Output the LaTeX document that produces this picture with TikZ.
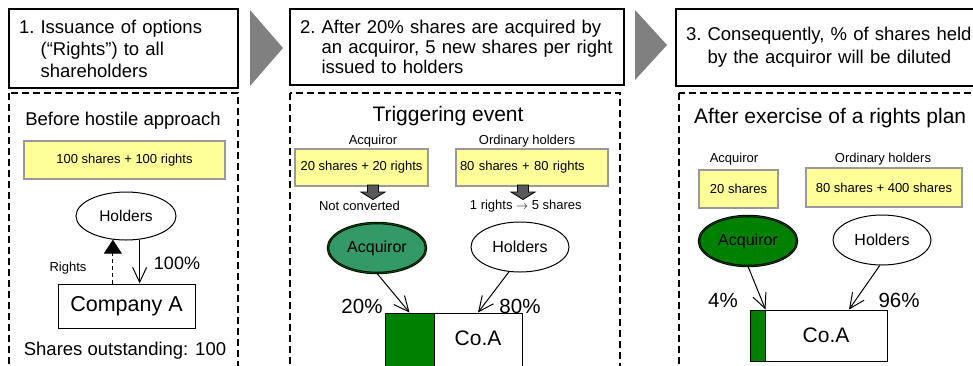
\documentclass[tikz,border=0pt]{standalone}
\usepackage{fontspec}
\setmainfont{Liberation Sans}
\usetikzlibrary{arrows.meta,shapes.geometric}

\definecolor{notefill}{HTML}{FFFF99}
\definecolor{noteline}{HTML}{999999}
\definecolor{chevgray}{HTML}{808080}
\definecolor{acqlight}{HTML}{339966}
\definecolor{acqdark}{HTML}{008000}
\definecolor{blkgray}{HTML}{595959}

\begin{document}
\begin{tikzpicture}[x=1pt,y=-1pt,
  headbox/.style={draw,line width=1.3pt,rectangle,inner xsep=10pt,inner ysep=0pt,align=left,font=\fontsize{18.5}{22}\selectfont},
  panel/.style={draw,line width=1.2pt,dash pattern=on 7pt off 4pt},
  yellowbox/.style={draw=noteline,fill=notefill,line width=1.5pt,minimum height=37pt,inner sep=2pt,font=\fontsize{13}{15}\selectfont},
  lbl/.style={font=\fontsize{13}{15}\selectfont,inner sep=0pt},
  ttl/.style={font=\fontsize{18.5}{22}\selectfont,inner sep=0pt},
  pct/.style={font=\fontsize{20.5}{24}\selectfont,inner sep=0pt},
  party/.style={draw,ellipse,line width=1pt,minimum width=98pt,minimum height=50pt,font=\fontsize{16}{19}\selectfont,inner sep=0pt},
  acquiror/.style={party,double=#1,double distance=0.9pt,line width=0.8pt},
  stake/.style={draw,line width=1pt,inner sep=0pt,font=\fontsize{21}{25}\selectfont},
  owns/.style={line width=1pt,-{Straight Barb[length=15pt,width=14pt]}},
  chevron/.style={fill=chevgray},
  blockarr/.style={draw=black,fill=blkgray,line width=0.8pt}
]
\useasboundingbox (0,0) rectangle (973,365);
\clip (0,0) rectangle (973,365);
\fill[white] (0,0) rectangle (973,365);

% step headers and arrows between them
\node[headbox,text width=209pt,minimum height=79pt] (head1) at (123.5,48.5) {1.~Issuance of options\\\phantom{1.~}(“Rights”) to all\\\phantom{1.~}shareholders};
\node[headbox,text width=314pt,minimum height=76pt,font=\fontsize{18.5}{20}\selectfont] (head2) at (457,47) {2.~After 20\% shares are acquired by\\\phantom{2.~}an acquiror, 5 new shares per right\\\phantom{2.~}issued to holders};
\node[headbox,text width=300pt,minimum height=77pt,font=\fontsize{18.5}{23}\selectfont] (head3) at (836,47.5) {3.~Consequently, \% of shares held\\\phantom{3.~}by the acquiror will be diluted};
\fill[chevron] (250,10) -- (283,48) -- (250,86) -- cycle;
\fill[chevron] (635,10) -- (667,45) -- (635,80) -- cycle;

\draw[panel] (9,93) rectangle (238,380);
\draw[panel] (290,93) rectangle (620,380);
\draw[panel] (679,93) rectangle (1000,380);

% before hostile approach
\node[ttl,anchor=base] (before) at (123,125) {Before hostile approach};
\node[yellowbox,minimum width=201pt,minimum height=38pt] (pool1) at (124.5,160) {100 shares + 100 rights};
\node[party,minimum width=100pt,minimum height=48pt,font=\fontsize{15.5}{18}\selectfont] (hold1) at (126,216) {Holders};
\node[stake,minimum width=137pt,minimum height=44pt,font=\fontsize{21.5}{25}\selectfont] (compA) at (126.5,306) {Company A};
\node[ttl,anchor=base] (outst) at (125,355) {Shares outstanding: 100};
\draw[line width=1pt,dash pattern=on 4pt off 3pt,-{Triangle[length=14pt,width=18pt]}] (hold1.-119 |- compA.north) -- (hold1.-119);
\draw[owns] (hold1.-60) -- (hold1.-60 |- compA.north);
\node[lbl] (rights) at (68,268) {Rights};
\node[pct,font=\fontsize{18}{21}\selectfont] (p100) at (177,263) {100\%};

% triggering event
\node[ttl,font=\fontsize{21}{25}\selectfont,anchor=base] (trig) at (448,121.5) {Triggering event};
\node[lbl] (acqlbl2) at (373,141) {Acquiror};
\node[lbl] (ordlbl2) at (527,141) {Ordinary holders};
\node[yellowbox,minimum width=133pt] (acqpool2) at (361.5,167.5) {20 shares + 20 rights};
\node[yellowbox,inner xsep=4pt,text width=144pt,align=left] (ordpool2) at (532,167.5) {80 shares + 80 rights};
\foreach \cx in {373,523}
  \draw[blockarr] (\cx-5.5,185) -- ++(11,0) -- ++(0,7) -- ++(6.5,0) -- (\cx,199.5) -- (\cx-12,192) -- ++(6.5,0) -- cycle;
\node[lbl] (notconv) at (359.5,205.5) {Not converted};
\node[lbl] (convert) at (525.8,206.5) {1 rights $\rightarrow$ 5 shares};
\node[acquiror=acqdark!60!black,fill=acqlight] (acq2) at (377,248) {Acquiror};
\node[party] (hold2) at (520,247) {Holders};
\node[stake,fill=acqdark,minimum width=49pt,minimum height=60pt] (stake2) at (409.5,343) {};
\node[stake,minimum width=88pt,minimum height=60pt,text depth=10pt] (rest2) at (478,343) {Co.A};
\draw[owns] (acq2.south) -- (stake2.north);
\draw[owns] (hold2.-114) -- (rest2.north);
\node[pct] (p20) at (362,306) {20\%};
\node[pct] (p80) at (520,306) {80\%};

% after exercise
\node[ttl,font=\fontsize{21}{25}\selectfont,anchor=base west] (after) at (694,123.3) {After exercise of a rights plan};
\node[lbl] (acqlbl3) at (734,159) {Acquiror};
\node[lbl] (ordlbl3) at (883,159) {Ordinary holders};
\node[yellowbox,minimum width=79pt,minimum height=38pt] (acqpool3) at (738.5,189) {20 shares};
\node[yellowbox,minimum width=156pt,minimum height=39pt] (ordpool3) at (884,187.5) {80 shares + 400 shares};
\node[acquiror=acqdark!50!black,fill=acqdark] (acq3) at (748,241) {Acquiror};
\node[party] (hold3) at (882,240) {Holders};
\node[stake,fill=acqdark,minimum width=15pt,minimum height=51pt] (stake3) at (757.5,335.5) {};
\node[stake,minimum width=122pt,minimum height=51pt] (rest3) at (826,335.5) {Co.A};
\draw[owns] (acq3.south) -- (stake3.north east);
\draw[owns] (hold3.-95) -- ([xshift=23pt]rest3.north);
\node[pct] (p4) at (723,300) {4\%};
\node[pct] (p96) at (899,300) {96\%};
\end{tikzpicture}
\end{document}
